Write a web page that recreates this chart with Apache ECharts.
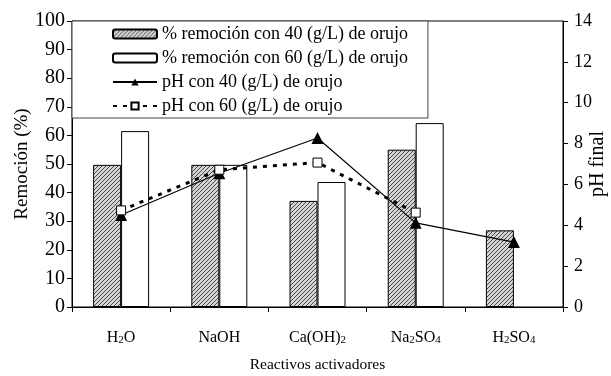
<!DOCTYPE html>
<html>
<head>
<meta charset="utf-8">
<script src="https://cdn.jsdelivr.net/npm/echarts@6/dist/echarts.min.js"></script>
<style>
  html, body { margin: 0; padding: 0; background: #fff; }
  #chart { width: 611px; height: 376px; }
</style>
</head>
<body>
<div id="chart"></div>
<script>
// Activating reagents (rich-text markup gives the subscripts)
const categories = ['{n|H}{s|2}{n|O}', '{n|NaOH}', '{n|Ca(OH)}{s|2}', '{n|Na}{s|2}{n|SO}{s|4}', '{n|H}{s|2}{n|SO}{s|4}'];

// Removal percentage (left axis)
const removal40 = [49.7, 49.7, 37.1, 55.0, 26.8];
const removal60 = [61.5, 49.7, 43.7, 64.3, null];

// Final pH (right axis)
const ph40 = [4.5, 6.55, 8.27, 4.12, 3.18];
const ph60 = [4.73, 6.72, 7.07, 4.62, null];

const seriesNames = [
  '% remoción con 40 (g/L) de orujo',
  '% remoción con 60 (g/L) de orujo',
  'pH con 40 (g/L) de orujo',
  'pH con 60 (g/L) de orujo'
];

// Diagonal hatch fill for the 40 g/L bars
function hatch() {
  const c = document.createElement('canvas');
  c.width = 4; c.height = 4;
  const g = c.getContext('2d');
  g.fillStyle = '#d4d4d4';
  g.fillRect(0, 0, 4, 4);
  g.strokeStyle = '#4a4a4a';
  g.lineWidth = 1;
  g.beginPath();
  g.moveTo(0, 4); g.lineTo(4, 0);
  g.moveTo(-1, 1); g.lineTo(1, -1);
  g.moveTo(3, 5); g.lineTo(5, 3);
  g.stroke();
  return c;
}

const FONT = '"Liberation Serif", "Times New Roman", serif';
const chart = echarts.init(document.getElementById('chart'));

chart.setOption({
  backgroundColor: '#fff',
  animation: false,
  textStyle: { fontFamily: FONT, color: '#000' },
  grid: {
    left: 72, right: 48, top: 21, bottom: 69,
    containLabel: false,
    outerBoundsMode: 'none',
    show: true, borderColor: '#000', borderWidth: 1
  },
  legend: {
    orient: 'vertical',
    left: 72, top: 21,
    padding: [4, 20, 3, 40],
    itemWidth: 44, itemHeight: 9, itemGap: 6,
    backgroundColor: '#fff',
    borderColor: '#444', borderWidth: 1,
    textStyle: { fontFamily: FONT, fontSize: 18, color: '#000' },
    data: seriesNames
  },
  xAxis: {
    type: 'category',
    data: categories,
    name: 'Reactivos activadores',
    nameLocation: 'middle',
    nameGap: 50,
    nameMoveOverlap: false,
    nameTextStyle: { fontFamily: FONT, fontSize: 15.5, color: '#000' },
    axisLine: { lineStyle: { color: '#000', width: 1 } },
    axisTick: { show: true, length: 5, lineStyle: { color: '#000' } },
    axisLabel: {
      interval: 0,
      margin: 21,
      color: '#000',
      rich: {
        n: { fontFamily: FONT, fontSize: 16, color: '#000', lineHeight: 18, verticalAlign: 'bottom' },
        s: { fontFamily: FONT, fontSize: 11, color: '#000', lineHeight: 12, verticalAlign: 'bottom', padding: [5, 0, 0, 0] }
      }
    }
  },
  yAxis: [
    {
      type: 'value', min: 0, max: 100, interval: 10,
      name: 'Remoción (%)',
      nameLocation: 'middle', nameGap: 40, nameRotate: 90,
      nameMoveOverlap: false,
      nameTextStyle: { fontFamily: FONT, fontSize: 19, color: '#000' },
      axisLine: { show: true, lineStyle: { color: '#000' } },
      axisTick: { show: true, length: 5, lineStyle: { color: '#000' } },
      axisLabel: { fontFamily: FONT, fontSize: 20, color: '#000', margin: 7 },
      splitLine: { show: false }
    },
    {
      type: 'value', min: 0, max: 14, interval: 2,
      name: 'pH final',
      nameLocation: 'middle', nameGap: 25, nameRotate: 90,
      nameMoveOverlap: false,
      nameTextStyle: { fontFamily: FONT, fontSize: 20, color: '#000' },
      axisLine: { show: true, lineStyle: { color: '#000' } },
      axisTick: { show: true, length: 5, lineStyle: { color: '#000' } },
      axisLabel: { fontFamily: FONT, fontSize: 18, color: '#000', margin: 11 },
      splitLine: { show: false }
    }
  ],
  series: [
    {
      name: seriesNames[0], type: 'bar', data: removal40,
      barWidth: 28, barGap: '0%',
      itemStyle: { color: { image: hatch(), repeat: 'repeat' }, borderColor: '#000', borderWidth: 1 }
    },
    {
      name: seriesNames[1], type: 'bar', data: removal60,
      barWidth: 28, barGap: '0%',
      itemStyle: { color: '#fff', borderColor: '#000', borderWidth: 1 }
    },
    {
      name: seriesNames[2], type: 'line', yAxisIndex: 1, data: ph40,
      symbol: 'triangle', symbolSize: 12,
      itemStyle: { color: '#000' },
      lineStyle: { color: '#000', width: 1.2 }
    },
    {
      name: seriesNames[3], type: 'line', yAxisIndex: 1, data: ph60,
      symbol: 'rect', symbolSize: 9,
      itemStyle: { color: '#fff', borderColor: '#000', borderWidth: 1 },
      lineStyle: { color: '#000', width: 3, type: [4, 6] }
    }
  ]
});
</script>
</body>
</html>
